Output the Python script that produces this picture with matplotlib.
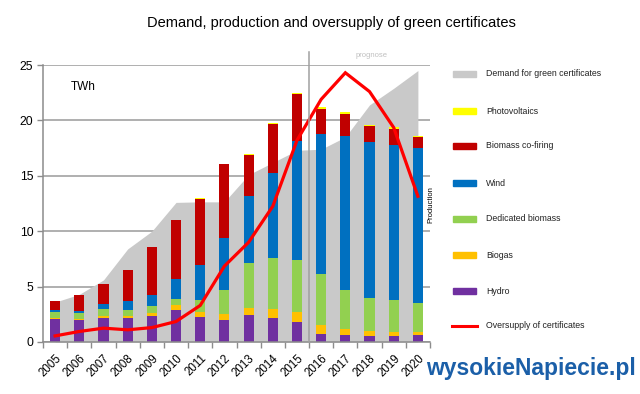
import matplotlib
matplotlib.use("Agg")
import matplotlib.pyplot as plt
from matplotlib.patches import Rectangle
from matplotlib.lines import Line2D
import numpy as np

plt.rcParams['font.family'] = ['Liberation Sans', 'DejaVu Sans']

years = [str(y) for y in range(2005, 2021)]
hydro = [2.1, 1.95, 2.2, 2.15, 2.35, 2.9, 2.3, 2.0, 2.4, 2.15, 1.8, 0.7, 0.63, 0.55, 0.55, 0.6]
biogas = [0.1, 0.1, 0.15, 0.2, 0.3, 0.4, 0.4, 0.55, 0.65, 0.8, 0.9, 0.85, 0.52, 0.45, 0.38, 0.33]
dedicated = [0.55, 0.55, 0.6, 0.55, 0.6, 0.6, 1.1, 2.15, 4.05, 4.65, 4.7, 4.55, 3.5, 3.0, 2.87, 2.57]
wind = [0.15, 0.2, 0.5, 0.8, 1.0, 1.8, 3.15, 4.7, 6.05, 7.65, 10.7, 12.65, 13.95, 14.05, 14.0, 14.05]
cofiring = [0.8, 1.4, 1.8, 2.8, 4.35, 5.3, 6.0, 6.65, 3.75, 4.45, 4.25, 2.3, 2.0, 1.45, 1.45, 0.95]
pv = [0, 0, 0, 0, 0, 0.02, 0.05, 0.06, 0.08, 0.1, 0.12, 0.12, 0.12, 0.12, 0.12, 0.12]
demand = [3.6, 4.3, 5.6, 8.4, 10.0, 12.6, 12.65, 12.65, 15.1, 16.2, 17.3, 17.4, 18.5, 21.4, 22.9, 24.5]
oversupply = [0.55, 0.95, 1.25, 1.1, 1.3, 1.85, 3.3, 6.85, 9.0, 12.25, 18.2, 21.9, 24.3, 22.6, 19.35, 13.15]

series = [
    ("Hydro", hydro, "#7030a0"),
    ("Biogas", biogas, "#ffc000"),
    ("Dedicated biomass", dedicated, "#92d050"),
    ("Wind", wind, "#0070c0"),
    ("Biomass co-firing", cofiring, "#c00000"),
    ("Photovoltaics", pv, "#ffff00"),
]
demand_label = "Demand for green certificates"
over_label = "Oversupply of certificates"
demand_color = "#c9c9c9"
line_color = "#ff0000"

fig = plt.figure(figsize=(6.4, 3.94), dpi=100)
ax = fig.add_axes([43/640, 1 - 342/394, (430-43)/640, (342-65)/394])

x = np.arange(len(years))
ax.fill_between(x, demand, 0, color=demand_color, linewidth=0, zorder=1)

bottom = np.zeros(len(years))
for name, vals, col in series:
    ax.bar(x, vals, bottom=bottom, width=0.42, color=col, linewidth=0, zorder=2)
    bottom += np.array(vals)

ax.plot(x, oversupply, color=line_color, lw=2.3, zorder=3, solid_joinstyle='miter')

ax.set_xlim(-0.5, len(years) - 0.5)
ax.set_ylim(0, 25)
ax.set_yticks([0, 5, 10, 15, 20, 25])
ax.yaxis.grid(True, color="#9a9a9a", lw=1.1, zorder=0)
ax.set_axisbelow(True)

ax.set_xticks(np.arange(-0.5, len(years)), minor=False)
ax.set_xticklabels([])
ax.set_xticks(x, minor=True)
ax.set_xticklabels(years, minor=True, rotation=45, ha='right', va='top',
                   rotation_mode='anchor', fontsize=8.3)
ax.tick_params(axis='x', which='minor', length=0, pad=7.5)
ax.tick_params(axis='x', which='major', length=4, color="#8c8c8c", width=1)
ax.tick_params(axis='y', length=4, color="#8c8c8c", width=1, labelsize=8.8, pad=3)

for s in ['top', 'right']:
    ax.spines[s].set_visible(False)
for s in ['left', 'bottom']:
    ax.spines[s].set_color("#8c8c8c")
    ax.spines[s].set_linewidth(1.1)

# forecast divider
ax.plot([10.5, 10.5], [0, 26.2], color="#a0a0a0", lw=1.1, clip_on=False, zorder=4)
ax.text(13.1, 25.85, "prognose", color="#c0c0c0", fontsize=5.5, ha='center', va='center')
ax.text(0.65, 23.0, "TWh", fontsize=8.5, ha='left', va='center')
fig.text(431/640, 1 - 205/394, "Production", rotation=90, fontsize=5.5, ha='center', va='center')

fig.text(331/640, 1 - 23/394, "Demand, production and oversupply of green certificates",
         fontsize=10.5, ha='center', va='center')

# legend (manual)
legend_items = [(demand_label, demand_color, 'patch')] + \
    [(n, c, 'patch') for n, _, c in reversed(series)] + [(over_label, line_color, 'line')]
ys = [74, 111, 146, 183, 219, 255, 291, 326]
for (lab, col, kind), yy in zip(legend_items, ys):
    yf = 1 - yy/394
    if kind == 'patch':
        fig.patches.append(Rectangle((453/640, yf - 3/394), 23/640, 6/394, color=col,
                                     transform=fig.transFigure, figure=fig))
    else:
        fig.lines.append(Line2D([452/640, 477/640], [yf, yf], color=col, lw=2.2,
                                transform=fig.transFigure, figure=fig))
    fig.text(486/640, yf, lab, fontsize=6.3, ha='left', va='center', color="#222222")

fig.text(531/640, 1 - 369/394, "wysokieNapiecie.pl", fontsize=16.5, fontweight='bold',
         color="#1b5fa8", ha='center', va='center')

fig.savefig("out.png", dpi=100)
